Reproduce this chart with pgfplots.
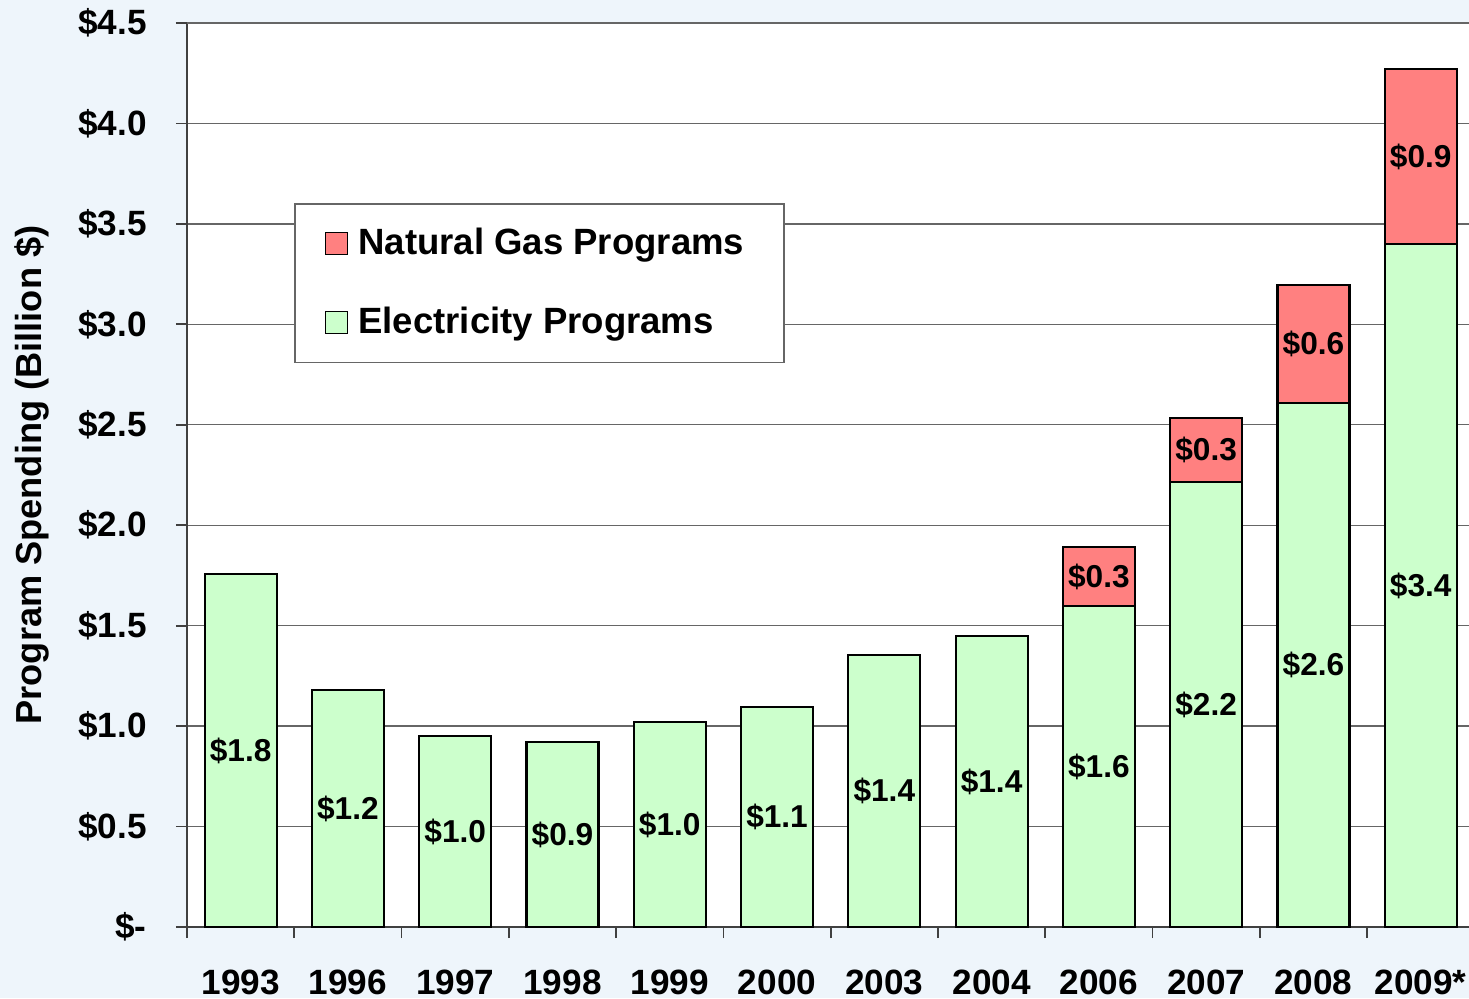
\documentclass[border=0pt]{standalone}
\usepackage{fontspec}
\setmainfont{Liberation Sans}
\usepackage{pgfplots}
\pgfplotsset{compat=1.18}
\usepackage{pgfplotstable}

\definecolor{elec}{RGB}{204,255,204}
\definecolor{gas}{RGB}{255,128,128}
\definecolor{bg}{RGB}{238,245,251}

% spending in billion $, electricity and natural gas programs
\pgfplotstableread{
x  e     g      el       gl
0  1.757 0      {\$1.8}  {}
1  1.180 0      {\$1.2}  {}
2  0.951 0      {\$1.0}  {}
3  0.921 0      {\$0.9}  {}
4  1.020 0      {\$1.0}  {}
5  1.095 0      {\$1.1}  {}
6  1.354 0      {\$1.4}  {}
7  1.448 0      {\$1.4}  {}
8  1.598 0.293  {\$1.6}  {\$0.3}
9  2.215 0.319  {\$2.2}  {\$0.3}
10 2.608 0.588  {\$2.6}  {\$0.6}
11 3.400 0.871  {\$3.4}  {\$0.9}
}\spending

\begin{document}
\begin{tikzpicture}
\fill[bg] (-1.87,-0.71) rectangle (12.82,9.27);
\path[use as bounding box] (-1.87,-0.71) rectangle (12.82,9.27);
\begin{axis}[
    scale only axis,
    width=12.82cm, height=9.04cm,
    ybar stacked, bar width=0.72cm,
    xmin=-0.5, xmax=11.45, ymin=0, ymax=4.5,
    axis background/.style={fill=white},
    axis x line*=bottom, axis y line*=left,
    axis line style={draw=black!75, line width=0.6pt},
    tick align=outside,
    major tick length=0.11cm, minor tick length=0.11cm,
    xtick={0,...,11},
    xticklabels={1993,1996,1997,1998,1999,2000,2003,2004,2006,2007,2008,2009*},
    minor xtick={-0.5,0.5,...,10.5},
    major x tick style={draw=none},
    minor x tick style={draw=black!75, line width=0.5pt},
    ytick={0,0.5,...,4.5},
    yticklabels={\$-,\$0.5,\$1.0,\$1.5,\$2.0,\$2.5,\$3.0,\$3.5,\$4.0,\$4.5},
    y tick style={draw=black!75, line width=0.5pt},
    ymajorgrids,
    major grid style={draw=black!60, line width=0.4pt},
    extra y ticks={4.5}, extra y tick labels={},
    extra y tick style={grid style={draw=black!40, line width=0.9pt}},
    ticklabel style={font=\fontsize{10}{12}\selectfont\bfseries},
    xticklabel style={yshift=-0.2cm},
    yticklabel style={xshift=-0.17cm},
    ylabel={Program Spending (Billion \$)},
    ylabel style={font=\fontsize{10.3}{12}\selectfont\bfseries, at={(axis description cs:-0.121,0.5)}, anchor=center},
    legend style={at={(axis description cs:0.0835,0.801)}, anchor=north west,
      draw=black!60, line width=0.5pt, fill=white,
      font=\fontsize{10.4}{12}\selectfont\bfseries,
      inner xsep=0.3cm, inner ysep=0.17cm, row sep=0.33cm,
      cells={anchor=west}, nodes={inner xsep=0.1cm}},
    legend image code/.code={\draw[#1, draw=black, line width=0.4pt] (0cm,-0.11cm) rectangle (0.22cm,0.11cm);},
    reverse legend,
    nodes near coords={\pgfplotspointmeta},
    point meta=explicit symbolic,
    every node near coord/.append style={font=\fontsize{9}{11}\selectfont\bfseries, anchor=center},
  ]
  \addplot[fill=elec, draw=black, line width=0.6pt]
    table[x=x, y=e, meta=el] {\spending};
  \addplot[fill=gas, draw=black, line width=0.6pt]
    table[x=x, y=g, meta=gl] {\spending};
  \legend{Electricity Programs, Natural Gas Programs}
\end{axis}
\end{tikzpicture}
\end{document}
